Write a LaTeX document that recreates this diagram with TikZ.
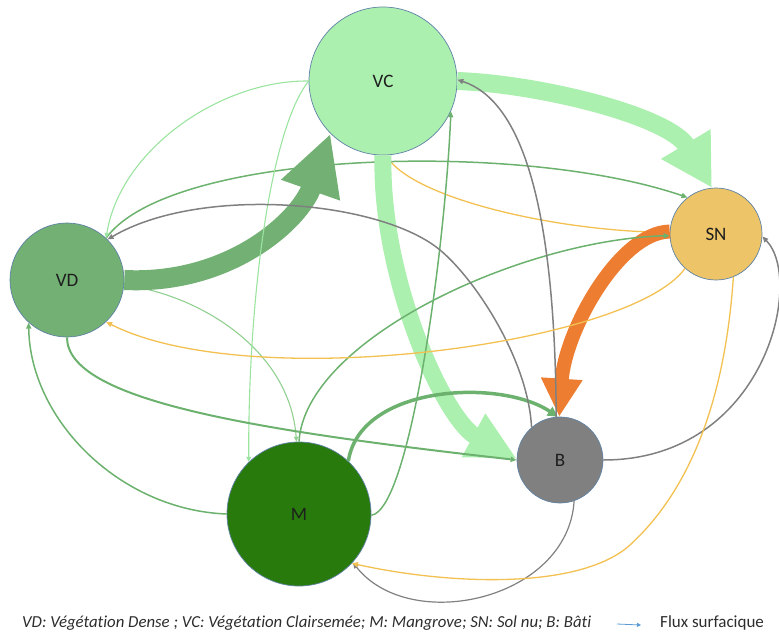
\documentclass[tikz,border=0pt]{standalone}
\usepackage{fontspec}
\setmainfont[Ligatures=NoCommon]{Carlito}
\usetikzlibrary{arrows.meta}
\definecolor{vcfill}{RGB}{172,240,176}
\definecolor{vdfill}{RGB}{114,176,115}
\definecolor{mfill}{RGB}{40,122,12}
\definecolor{snfill}{RGB}{237,196,104}
\definecolor{bfill}{RGB}{128,128,128}
\definecolor{nodeborder}{RGB}{95,130,165}
\definecolor{gline}{RGB}{108,178,110}
\definecolor{lgline}{RGB}{155,228,160}
\definecolor{mgline}{RGB}{145,208,145}
\definecolor{greyline}{RGB}{128,128,128}
\definecolor{yline}{RGB}{243,192,82}
\definecolor{orangeA}{RGB}{237,125,49}
\definecolor{legblue}{RGB}{91,155,213}
\definecolor{labeltext}{RGB}{30,30,30}
\definecolor{legtext}{RGB}{45,45,45}
\begin{document}
\begin{tikzpicture}[x=1pt,y=-1pt,
  landuse/.style={circle, draw=nodeborder, line width=0.7pt, inner sep=0pt,
    text=labeltext, font=\fontsize{19}{21}\selectfont},
  thinflow/.style={line width=1.5pt, -{Triangle[length=6pt,width=5pt]}},
  fineflow/.style={line width=1.1pt, -{Triangle[length=5pt,width=4.5pt]}},
  bigflow/.style={line cap=butt}
]
\useasboundingbox (0,0) rectangle (779,637);

% nodes
\node[landuse, fill=vcfill, minimum size=148pt] (VC) at (383,81) {VC};
\node[landuse, fill=vdfill, minimum size=114pt] (VD) at (67,280) {VD};
\node[landuse, fill=snfill, minimum size=92pt] (SN) at (716,234) {SN};
\node[landuse, fill=bfill, minimum size=86pt] (B) at (560,460) {B};
\node[landuse, fill=mfill, minimum size=144pt] (M) at (299,514) {M};

% thin lines that pass under the thick arrows
\draw[fineflow, mgline] (VD.355) .. controls (200,295) and (290,350) .. (M.92);
\draw[thinflow, yline, line width=1.3pt] (SN.178) .. controls (560,232) and (420,200) .. (VC.272);
\draw[thinflow, gline] (VD.47) .. controls (170,150) and (520,140) .. (SN.128);
\draw[fineflow, lgline] (VC.180) .. controls (220,80) and (120,150) .. (VD.47);

% thick arrows
\draw[bigflow, vdfill, line width=20pt, -{Triangle[length=60pt,width=58pt]}]
  (VD.0) .. controls (230,285) and (300,220) .. (VC.225);
\draw[bigflow, vcfill, line width=18pt, -{Triangle[length=51pt,width=54pt]}]
  (VC.0) .. controls (540,84) and (669,116) .. (SN.95);
\draw[bigflow, vcfill, line width=17pt, -{Triangle[length=49pt,width=46pt]}]
  (VC.270) .. controls (380,280) and (445,420) .. (B.178);
\draw[bigflow, orangeA, line width=14pt, -{Triangle[length=38pt,width=39pt]}]
  (SN.177) .. controls (620,232) and (565,330) .. (B.91);

% other thin lines
\draw[fineflow, lgline] (VC.180) .. controls (270,130) and (248,300) .. (M.134);
\draw[thinflow, gline] (M.90) .. controls (305,340) and (520,240) .. (SN.182);
\draw[thinflow, gline] (M.359) .. controls (410,510) and (445,250) .. (VC.336);
\draw[gline, line width=3.5pt, -{Triangle[length=10pt,width=10pt]}]
  (M.47) .. controls (360,385) and (500,378) .. (B.93);
\draw[thinflow, gline, line width=2pt] (VD.270) .. controls (67,400) and (250,430) .. (B.180);
\draw[thinflow, gline] (M.180) .. controls (120,510) and (30,420) .. (VD.228);

\draw[thinflow, greyline] (B.131) .. controls (528,360) and (476,280) .. (440,250)
  .. controls (380,200) and (200,185) .. (VD.45);
\draw[thinflow, greyline] (B.95) .. controls (555,200) and (520,100) .. (VC.1);
\draw[thinflow, greyline] (B.0) .. controls (765,460) and (805,280) .. (SN.357);
\draw[thinflow, greyline, line width=1.2pt] (B.289) .. controls (568,600) and (410,635) .. (M.318);

\draw[thinflow, yline, line width=1.3pt] (SN.292) .. controls (725,400) and (690,490) .. (630,545)
  .. controls (580,590) and (450,585) .. (M.317);
\draw[thinflow, yline, line width=1.3pt] (SN.228) .. controls (630,345) and (250,395) .. (VD.313);

% legend
\node[anchor=west, inner sep=0pt, text=legtext, font=\itshape\fontsize{16.8}{19}\selectfont] (leg) at (22,623)
  {VD: Végétation Dense ; VC: Végétation Clairsemée; M: Mangrove; SN: Sol nu; B: Bâti};
\coordinate (la) at (617,624);
\coordinate (lb) at (641,625);
\draw[legblue, line width=0.8pt, -{Triangle[length=4pt,width=4pt]}] (la) -- (lb);
\node[anchor=west, inner sep=0pt, text=legtext, font=\fontsize{17}{19}\selectfont] (flux) at (660,623) {Flux surfacique};
\end{tikzpicture}
\end{document}
